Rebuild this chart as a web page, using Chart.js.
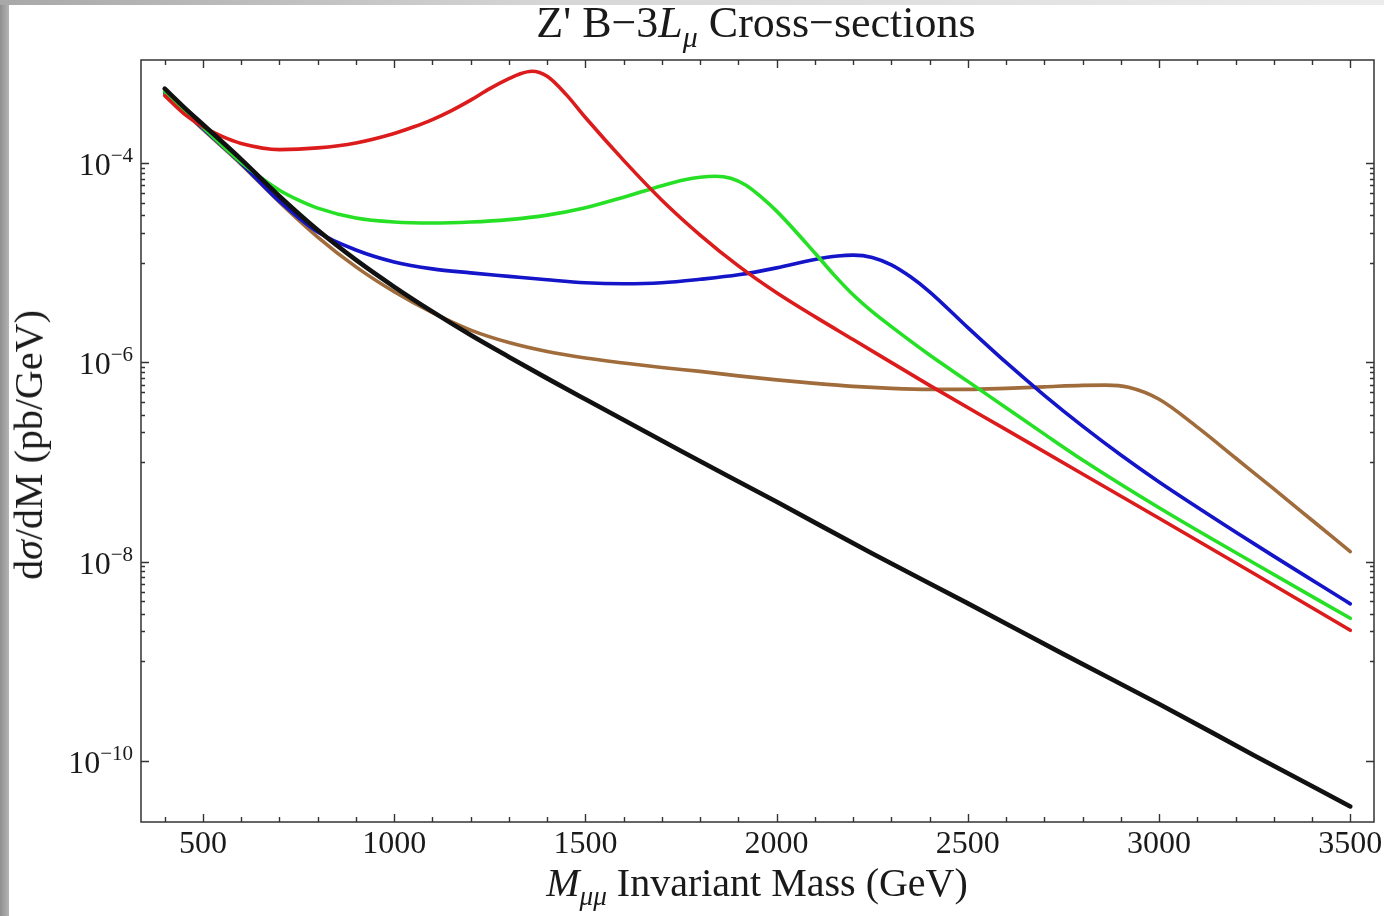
<!DOCTYPE html>
<html lang="en">
<head>
  <meta charset="UTF-8">
  <title>Z' B-3L Cross-sections</title>
  <script src="https://cdn.jsdelivr.net/npm/chart.js"></script>
  <style>
    body {
      margin: 0;
      background: #ffffff;
      overflow: hidden;
      font-family: 'Liberation Serif', 'Times New Roman', serif;
      color: #1a1a1a;
    }
    #wrap {
      position: relative;
      width: 1384px;
      height: 916px;
    }
    #edgeLeft {
      position: absolute;
      left: 0; top: 0;
      width: 9px; height: 916px;
      background: linear-gradient(to right, #8e8e8e, #b4b4b4);
    }
    #edgeTop {
      position: absolute;
      left: 0; top: 0;
      width: 1384px; height: 5px;
      background: linear-gradient(to right, #a8a8a8, #d6d6d6 40%, #ececec);
    }
    .lbl {
      position: absolute;
      white-space: nowrap;
      line-height: 1;
      font-size: 40px;
    }
    .sub {
      font-size: 0.68em;
      position: relative;
      top: 0.32em;
    }
    #title { left: 756px; top: 1px; font-size: 44px; transform: translateX(-50%); }
    #xTitle { left: 757px; top: 863px; transform: translateX(-50%); }
    #yTitle { left: 29px; top: 445px; transform: translate(-50%, -50%) rotate(-90deg); }
  </style>
</head>
<body>
  <div id="wrap">
    <canvas id="chart" width="1384" height="916"></canvas>
    <div id="edgeLeft"></div>
    <div id="edgeTop"></div>
    <div class="lbl" id="title">Z' B&minus;3<i>L</i><i class="sub">μ</i> Cross&minus;sections</div>
    <div class="lbl" id="xTitle"><i>M</i><i class="sub">μμ</i> Invariant Mass (GeV)</div>
    <div class="lbl" id="yTitle">d<i>σ</i>/dM (pb/GeV)</div>
  </div>

  <script>
    // values: mass in GeV, cross-section as log10(pb/GeV)
    const massBlack = [400, 450, 500, 600, 700, 800, 900, 1000, 1100, 1200, 1300, 1400, 1500, 1750, 2000, 2250, 2500, 2750, 3000, 3250, 3500];
    const logBlack  = [-3.25, -3.435, -3.61, -3.96, -4.33, -4.67, -4.97, -5.24, -5.49, -5.725, -5.945, -6.16, -6.37, -6.89, -7.40, -7.92, -8.42, -8.93, -9.43, -9.95, -10.46];

    const massRed = [400, 450, 500, 550, 600, 700, 800, 900, 1000, 1050, 1100, 1150, 1200, 1250, 1300, 1330, 1360, 1400, 1450, 1500, 1600, 1700, 1800, 1900, 2000, 2100, 2200, 2400, 2600, 2800, 3000, 3250, 3500];
    const logRed  = [-3.32, -3.50, -3.63, -3.73, -3.80, -3.862, -3.845, -3.795, -3.70, -3.635, -3.56, -3.47, -3.365, -3.25, -3.15, -3.10, -3.075, -3.125, -3.31, -3.54, -3.97, -4.37, -4.72, -5.03, -5.30, -5.54, -5.77, -6.23, -6.675, -7.12, -7.565, -8.125, -8.69];

    const massGreen = [400, 500, 600, 650, 700, 750, 800, 900, 1000, 1100, 1200, 1300, 1400, 1500, 1600, 1700, 1760, 1800, 1840, 1880, 1920, 1960, 2000, 2100, 2150, 2200, 2250, 2300, 2400, 2500, 2600, 2700, 2800, 3000, 3250, 3500];
    const logGreen  = [-3.28, -3.64, -3.99, -4.14, -4.27, -4.37, -4.45, -4.55, -4.59, -4.60, -4.59, -4.565, -4.52, -4.445, -4.34, -4.225, -4.165, -4.14, -4.13, -4.15, -4.22, -4.34, -4.48, -4.90, -5.12, -5.32, -5.49, -5.64, -5.925, -6.19, -6.455, -6.72, -6.98, -7.46, -8.02, -8.57];

    const massBlue = [400, 500, 600, 700, 800, 900, 1000, 1100, 1200, 1300, 1400, 1500, 1600, 1700, 1800, 1900, 2000, 2100, 2160, 2200, 2250, 2300, 2350, 2400, 2500, 2600, 2700, 2800, 2900, 3000, 3250, 3500];
    const logBlue  = [-3.29, -3.65, -4.00, -4.38, -4.69, -4.87, -4.99, -5.06, -5.10, -5.135, -5.17, -5.20, -5.21, -5.20, -5.165, -5.12, -5.05, -4.965, -4.93, -4.922, -4.945, -5.02, -5.14, -5.29, -5.65, -6.00, -6.33, -6.64, -6.93, -7.20, -7.825, -8.425];

    const massBrown = [400, 500, 600, 700, 800, 900, 1000, 1100, 1200, 1300, 1400, 1500, 1600, 1700, 1800, 1900, 2000, 2100, 2200, 2300, 2400, 2500, 2600, 2700, 2800, 2860, 2920, 3000, 3100, 3200, 3300, 3400, 3500];
    const logBrown  = [-3.30, -3.66, -4.01, -4.39, -4.74, -5.04, -5.29, -5.50, -5.675, -5.80, -5.89, -5.955, -6.005, -6.05, -6.09, -6.135, -6.175, -6.21, -6.24, -6.26, -6.27, -6.27, -6.26, -6.245, -6.23, -6.228, -6.25, -6.37, -6.65, -6.96, -7.27, -7.585, -7.90];

    // axis ticks
    const xTickValues = [500, 1000, 1500, 2000, 2500, 3000, 3500];
    const xTickLabels = ['500', '1000', '1500', '2000', '2500', '3000', '3500'];
    const yTickExponents = [-4, -6, -8, -10];
    const yTickLabels = ['\u22124', '\u22126', '\u22128', '\u221210'];
    const yMinorDecades = [-5, -7, -9];

    const xMin = 338, xMax = 3562;
    const yMinExp = -10.616, yMaxExp = -2.962;

    const FONT = "'Liberation Serif', 'Times New Roman', serif";

    function toPoints(mass, logs) {
      return mass.map((m, i) => ({ x: m, y: Math.pow(10, logs[i]) }));
    }

    // inward ticks on all four sides, frame and tick labels
    const axisFrame = {
      id: 'axisFrame',
      afterDraw(chart) {
        const { ctx, chartArea: a, scales: { x, y } } = chart;
        ctx.save();
        ctx.strokeStyle = '#333';
        ctx.lineWidth = 1.5;
        ctx.strokeRect(a.left, a.top, a.right - a.left, a.bottom - a.top);

        ctx.lineWidth = 1.4;
        ctx.beginPath();
        for (let v = 400; v <= 3500; v += 100) {
          const px = Math.round(x.getPixelForValue(v)) + 0.5;
          const len = xTickValues.includes(v) ? 8 : 5;
          ctx.moveTo(px, a.bottom); ctx.lineTo(px, a.bottom - len);
          ctx.moveTo(px, a.top); ctx.lineTo(px, a.top + len);
        }
        yTickExponents.forEach(e => {
          const py = Math.round(y.getPixelForValue(Math.pow(10, e))) + 0.5;
          ctx.moveTo(a.left, py); ctx.lineTo(a.left + 8, py);
          ctx.moveTo(a.right, py); ctx.lineTo(a.right - 8, py);
        });
        yMinorDecades.forEach(n => {
          for (let k = 1; k <= 9; k++) {
            const py = Math.round(y.getPixelForValue(k * Math.pow(10, n))) + 0.5;
            ctx.moveTo(a.left, py); ctx.lineTo(a.left + 4, py);
            ctx.moveTo(a.right, py); ctx.lineTo(a.right - 4, py);
          }
        });
        ctx.stroke();

        ctx.fillStyle = '#1a1a1a';
        ctx.textBaseline = 'alphabetic';
        ctx.font = '32px ' + FONT;
        ctx.textAlign = 'center';
        xTickValues.forEach((v, i) => {
          ctx.fillText(xTickLabels[i], x.getPixelForValue(v), a.bottom + 31);
        });

        ctx.textAlign = 'left';
        yTickExponents.forEach((e, i) => {
          const py = y.getPixelForValue(Math.pow(10, e));
          ctx.font = '21px ' + FONT;
          const expW = ctx.measureText(yTickLabels[i]).width;
          ctx.font = '32px ' + FONT;
          const baseW = ctx.measureText('10').width;
          const right = a.left - 8;
          ctx.fillText('10', right - expW - baseW, py + 12);
          ctx.font = '21px ' + FONT;
          ctx.fillText(yTickLabels[i], right - expW, py - 1);
        });
        ctx.restore();
      }
    };

    function series(mass, logs, color, width) {
      return {
        data: toPoints(mass, logs),
        borderColor: color,
        borderWidth: width,
        pointRadius: 0,
        fill: false,
        cubicInterpolationMode: 'monotone',
        borderCapStyle: 'round',
        borderJoinStyle: 'round'
      };
    }

    new Chart(document.getElementById('chart'), {
      type: 'line',
      data: {
        datasets: [
          series(massBlack, logBlack, '#111111', 4.6),
          series(massRed, logRed, '#dc1c1c', 3.6),
          series(massGreen, logGreen, '#26e026', 3.6),
          series(massBlue, logBlue, '#1414c8', 3.6),
          series(massBrown, logBrown, '#a06c3c', 3.6)
        ]
      },
      options: {
        responsive: false,
        animation: false,
        devicePixelRatio: 1,
        layout: { padding: { left: 141, top: 60, right: 10, bottom: 94 } },
        plugins: {
          legend: { display: false },
          tooltip: { enabled: false }
        },
        scales: {
          x: {
            type: 'linear',
            min: xMin,
            max: xMax,
            display: false
          },
          y: {
            type: 'logarithmic',
            min: Math.pow(10, yMinExp),
            max: Math.pow(10, yMaxExp),
            display: false
          }
        }
      },
      plugins: [axisFrame]
    });
  </script>
</body>
</html>
